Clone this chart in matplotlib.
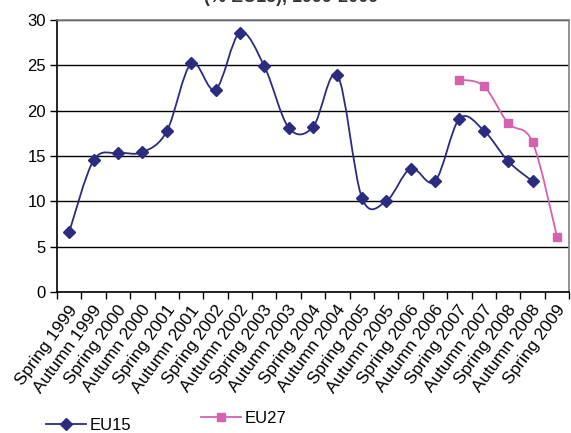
import numpy as np
import matplotlib
matplotlib.use('Agg')
import matplotlib.pyplot as plt
import matplotlib.transforms as mtransforms
from matplotlib.path import Path
from matplotlib.patches import PathPatch
from matplotlib.lines import Line2D

plt.rcParams['font.family'] = ['Liberation Sans', 'DejaVu Sans']

# Survey waves
waves = ['Spring 1999', 'Autumn 1999', 'Spring 2000', 'Autumn 2000', 'Spring 2001',
         'Autumn 2001', 'Spring 2002', 'Autumn 2002', 'Spring 2003', 'Autumn 2003',
         'Spring 2004', 'Autumn 2004', 'Spring 2005', 'Autumn 2005', 'Spring 2006',
         'Autumn 2006', 'Spring 2007', 'Autumn 2007', 'Spring 2008', 'Autumn 2008',
         'Spring 2009']

eu15 = [6.6, 14.5, 15.3, 15.4, 17.7, 25.2, 22.3, 28.6, 24.9, 18.1,
        18.2, 23.9, 10.4, 10.0, 13.6, 12.2, 19.1, 17.8, 14.4, 12.2]
eu27 = [23.4, 22.7, 18.6, 16.5, 6.1]
eu27_start = 16  # Spring 2007

NAVY = '#2b2b7f'
PINK = '#d462b0'


# Excel style smoothed line: cubic bezier through the points
def smooth_path(x, y):
    pts = np.column_stack([x, y]).astype(float)
    n = len(pts)
    verts = [pts[0]]
    codes = [Path.MOVETO]
    for i in range(n - 1):
        p0 = pts[max(i - 1, 0)]
        p1 = pts[i]
        p2 = pts[i + 1]
        p3 = pts[min(i + 2, n - 1)]
        c1 = p1 + (p2 - p0) / 6.0
        c2 = p2 - (p3 - p1) / 6.0
        verts += [c1, c2, p2]
        codes += [Path.CURVE4] * 3
    return Path(verts, codes)


fig = plt.figure(figsize=(5.71, 4.33), dpi=100)
ax = fig.add_axes([0.0998, 0.326, 0.897, 0.628])

x15 = np.arange(len(eu15))
x27 = np.arange(eu27_start, eu27_start + len(eu27))

ax.add_patch(PathPatch(smooth_path(x15, eu15), facecolor='none', edgecolor=NAVY, lw=1.3, zorder=3))
ax.plot(x15, eu15, ls='none', marker='D', ms=6, color=NAVY, zorder=4)
ax.add_patch(PathPatch(smooth_path(x27, eu27), facecolor='none', edgecolor=PINK, lw=1.3, zorder=3))
ax.plot(x27, eu27, ls='none', marker='s', ms=6, color=PINK, zorder=4)

ax.set_xlim(-0.5, len(waves) - 0.5)
ax.set_ylim(0, 30)
ax.set_yticks(range(0, 31, 5))
ax.set_xticks(range(len(waves)))
ax.set_xticklabels(waves, rotation=54, ha='right', va='center', rotation_mode='anchor', fontsize=12.5)
ax.set_xticks(np.arange(-0.5, len(waves), 1.0), minor=True)
ax.tick_params(axis='x', which='major', length=0, pad=11)
ax.tick_params(axis='x', which='minor', length=5, width=1, direction='out', color='black')
ax.tick_params(axis='y', length=5, width=1, direction='out', labelsize=12, pad=3)

# nudge the slanted labels a little to the right
shift = mtransforms.ScaledTranslation(5 / 100, 0, fig.dpi_scale_trans)
for lab in ax.get_xticklabels():
    lab.set_transform(lab.get_transform() + shift)

ax.yaxis.grid(True, color='black', lw=1)
ax.set_axisbelow(True)
for side in ['top', 'right']:
    ax.spines[side].set_color('#808080')
    ax.spines[side].set_linewidth(1.2)
for side in ['left', 'bottom']:
    ax.spines[side].set_color('black')
    ax.spines[side].set_linewidth(1.2)

# title, mostly cut off by the top edge in the original
fig.text(0.51, 0.995, '(% EU15), 1999-2009', ha='center', va='baseline',
         fontsize=13, fontweight='bold', color='#333333')

h15 = Line2D([], [], color=NAVY, marker='D', ms=6, lw=1.3)
h27 = Line2D([], [], color=PINK, marker='s', ms=6, lw=1.3)
fig.legend([h15], ['EU15'], loc='center left', bbox_to_anchor=(0.055, 0.018),
           frameon=False, fontsize=12, handlelength=2.4, handletextpad=0.2)
fig.legend([h27], ['EU27'], loc='center left', bbox_to_anchor=(0.326, 0.033),
           frameon=False, fontsize=12, handlelength=2.4, handletextpad=0.2)

fig.savefig('out.png', dpi=100)
